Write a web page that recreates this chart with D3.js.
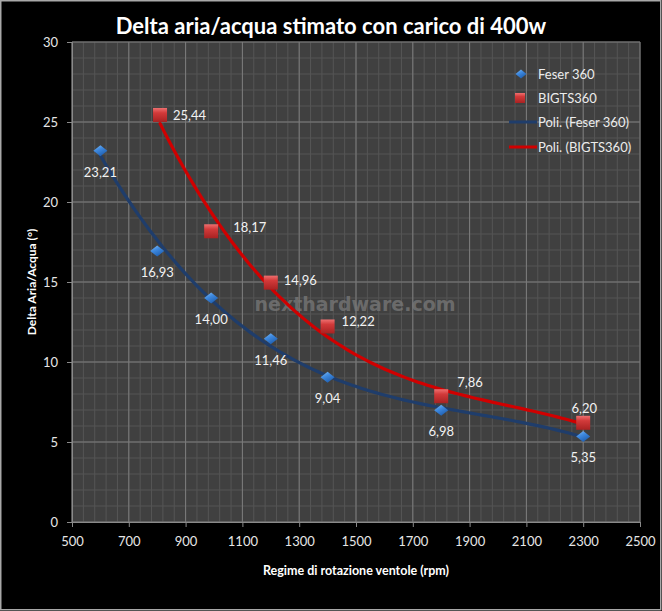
<!DOCTYPE html>
<html><head><meta charset="utf-8">
<script src="https://cdn.jsdelivr.net/npm/d3@7"></script>
<style>
html,body{margin:0;padding:0;background:#000;}
svg{display:block;font-family:Lato,"Open Sans",sans-serif;}
</style></head>
<body>
<svg id="c" width="662" height="611"></svg>
<script>
const titleText = "Delta aria/acqua stimato con carico di 400w";
const xTitle = "Regime di rotazione ventole (rpm)";
const yTitle = "Delta Aria/Acqua (°)";
const seriesNames = ["Feser 360", "BIGTS360"];
const trendNames = ["Poli. (Feser 360)", "Poli. (BIGTS360)"];
const feserRpm = [600, 800, 990, 1200, 1400, 1800, 2300];
const feserDelta = [23.21, 16.93, 14.00, 11.46, 9.04, 6.98, 5.35];
const bigtsRpm = [810, 990, 1200, 1400, 1800, 2300];
const bigtsDelta = [25.44, 18.17, 14.96, 12.22, 7.86, 6.20];
const xTicks = [500, 700, 900, 1100, 1300, 1500, 1700, 1900, 2100, 2300, 2500];
const yTicks = [0, 5, 10, 15, 20, 25, 30];
const watermark = "nexthardware.com";
const trendOrder = 3;

// label offsets (layout only)
const bigtsLabelOff = [[13,0,"start"],[22,-4,"start"],[13,-3,"start"],[14,-5,"start"],[16,-14,"start"],[1,-15,"middle"]];

const svg = d3.select("#c");
const m = {l:72, r:640, t:42, b:522};

svg.append("rect").attr("x",0.75).attr("y",0.75).attr("width",660).attr("height",609)
  .attr("fill","#000").attr("stroke","#a8a8a8").attr("stroke-width",1.5);

const x = d3.scaleLinear().domain([500,2500]).range([m.l,m.r]);
const y = d3.scaleLinear().domain([0,30]).range([m.b,m.t]);

const defs = svg.append("defs");
const gb = defs.append("linearGradient").attr("id","gBlue").attr("x1","0").attr("y1","0").attr("x2","0.6").attr("y2","1");
gb.append("stop").attr("offset","0").attr("stop-color","#8cc4f6");
gb.append("stop").attr("offset","0.45").attr("stop-color","#3f8ae0");
gb.append("stop").attr("offset","1").attr("stop-color","#1f5fb0");
const gr = defs.append("linearGradient").attr("id","gRed").attr("x1","0").attr("y1","0").attr("x2","0").attr("y2","1");
gr.append("stop").attr("offset","0").attr("stop-color","#ee7070");
gr.append("stop").attr("offset","0.35").attr("stop-color","#d23a3a");
gr.append("stop").attr("offset","1").attr("stop-color","#a82222");

svg.append("rect").attr("x",m.l).attr("y",m.t).attr("width",m.r-m.l).attr("height",m.b-m.t).attr("fill","#404040");

const g = svg.append("g");
g.selectAll("line.mx").data(d3.range(500,2501,40)).join("line")
  .attr("x1",d=>x(d)).attr("x2",d=>x(d)).attr("y1",m.t).attr("y2",m.b)
  .attr("stroke","#555").attr("stroke-width",1);
g.selectAll("line.my").data(d3.range(0,31,1)).join("line")
  .attr("y1",d=>y(d)).attr("y2",d=>y(d)).attr("x1",m.l).attr("x2",m.r)
  .attr("stroke","#555").attr("stroke-width",1);
g.selectAll("line.Mx").data(xTicks).join("line")
  .attr("x1",d=>x(d)).attr("x2",d=>x(d)).attr("y1",m.t).attr("y2",m.b)
  .attr("stroke","#7c7c7c").attr("stroke-width",1);
g.selectAll("line.My").data(yTicks).join("line")
  .attr("y1",d=>y(d)).attr("y2",d=>y(d)).attr("x1",m.l).attr("x2",m.r)
  .attr("stroke","#7c7c7c").attr("stroke-width",1);

const xa = svg.append("g").attr("transform",`translate(0,${m.b})`)
  .call(d3.axisBottom(x).tickValues(xTicks).tickSize(5).tickPadding(10).tickFormat(d3.format("d")));
const ya = svg.append("g").attr("transform",`translate(${m.l},0)`)
  .call(d3.axisLeft(y).tickValues(yTicks).tickSize(5).tickPadding(9).tickFormat(d3.format("d")));
[xa,ya].forEach(a=>{
  a.select(".domain").attr("stroke","#8a8a8a");
  a.selectAll(".tick line").attr("stroke","#8a8a8a");
  a.selectAll(".tick text").attr("fill","#e6e6e6").style("font-size","13px").style("font-family","Lato,sans-serif");
});

svg.append("text").attr("x",355).attr("y",311).attr("text-anchor","middle")
  .attr("fill","#777").attr("fill-opacity",0.8).style("font-size","19px").style("font-weight","bold")
  .style("font-family","'DejaVu Sans',sans-serif")
  .text(watermark);

// least-squares polynomial trend line (as Excel "Poli.")
function polyfit(xs, ys, order){
  const n=order+1;
  const A=[];
  for(let i=0;i<n;i++){A.push(new Array(n+1).fill(0));}
  xs.forEach((xv0,idx)=>{
    const xv=xv0/1000;
    for(let i=0;i<n;i++){
      for(let j=0;j<n;j++)A[i][j]+=Math.pow(xv,i+j);
      A[i][n]+=Math.pow(xv,i)*ys[idx];
    }
  });
  for(let i=0;i<n;i++){
    let p=i; for(let r=i+1;r<n;r++) if(Math.abs(A[r][i])>Math.abs(A[p][i]))p=r;
    [A[i],A[p]]=[A[p],A[i]];
    for(let r=i+1;r<n;r++){const f=A[r][i]/A[i][i];for(let k=i;k<=n;k++)A[r][k]-=f*A[i][k];}
  }
  const c=new Array(n).fill(0);
  for(let i=n-1;i>=0;i--){let s=A[i][n];for(let k=i+1;k<n;k++)s-=A[i][k]*c[k];c[i]=s/A[i][i];}
  return xv=>{const t=xv/1000;let s=0;for(let i=0;i<n;i++)s+=c[i]*Math.pow(t,i);return s;};
}
function trend(xs, ys, color){
  const f=polyfit(xs,ys,trendOrder);
  const lo=d3.min(xs), hi=d3.max(xs);
  const pts=d3.range(0,101).map(i=>lo+(hi-lo)*i/100);
  svg.append("path").datum(pts).attr("fill","none").attr("stroke",color).attr("stroke-width",3.2)
    .attr("stroke-linecap","round")
    .attr("d",d3.line().x(d=>x(d)).y(d=>y(f(d))));
}
trend(feserRpm, feserDelta, "#1f3d6b");
trend(bigtsRpm, bigtsDelta, "#d00000");

const fmt = v => d3.format(".2f")(v).replace(".",",");

const fData = feserRpm.map((r,i)=>({r, v:feserDelta[i]}));
svg.selectAll("path.fm").data(fData).join("path")
  .attr("transform",d=>`translate(${x(d.r)},${y(d.v)})`)
  .attr("d","M0,-5.5L7,0L0,5.5L-7,0Z").attr("fill","url(#gBlue)");
svg.selectAll("text.fl").data(fData).join("text")
  .attr("x",d=>x(d.r)).attr("y",d=>y(d.v)+26).attr("text-anchor","middle")
  .attr("fill","#f2f2f2").style("font-size","13px").text(d=>fmt(d.v));

const bData = bigtsRpm.map((r,i)=>({r, v:bigtsDelta[i], o:bigtsLabelOff[i]}));
svg.selectAll("rect.bm").data(bData).join("rect")
  .attr("x",d=>x(d.r)-7).attr("y",d=>y(d.v)-7).attr("width",14).attr("height",14)
  .attr("fill","url(#gRed)");
svg.selectAll("text.bl").data(bData).join("text")
  .attr("x",d=>x(d.r)+d.o[0]).attr("y",d=>y(d.v)+d.o[1]+5).attr("text-anchor",d=>d.o[2])
  .attr("fill","#f2f2f2").style("font-size","13px").text(d=>fmt(d.v));

const lg = svg.append("g");
const ly=[74,98,122,147];
lg.append("path").attr("transform",`translate(521,${ly[0]})`).attr("d","M0,-4.5L5.5,0L0,4.5L-5.5,0Z").attr("fill","url(#gBlue)");
lg.append("rect").attr("x",515).attr("y",ly[1]-5).attr("width",10).attr("height",10).attr("fill","url(#gRed)");
lg.append("line").attr("x1",509).attr("x2",537).attr("y1",ly[2]).attr("y2",ly[2]).attr("stroke","#1f3d6b").attr("stroke-width",3);
lg.append("line").attr("x1",509).attr("x2",537).attr("y1",ly[3]).attr("y2",ly[3]).attr("stroke","#d00000").attr("stroke-width",3);
const lnames=[...seriesNames,...trendNames];
lg.selectAll("text").data(lnames).join("text")
  .attr("x",538).attr("y",(d,i)=>ly[i]+4.5).attr("fill","#ececec").style("font-size","13px").text(d=>d);

svg.append("text").attr("x",331).attr("y",34).attr("text-anchor","middle").attr("fill","#fff")
  .style("font-size","22px").style("font-weight","bold").text(titleText);
svg.append("text").attr("x",356).attr("y",575).attr("text-anchor","middle").attr("fill","#fff")
  .style("font-size","12.5px").style("font-weight","bold").text(xTitle);
svg.append("text").attr("transform","translate(36,282) rotate(-90)").attr("text-anchor","middle").attr("fill","#fff")
  .style("font-size","12px").style("font-weight","bold").text(yTitle);
</script>
</body></html>
